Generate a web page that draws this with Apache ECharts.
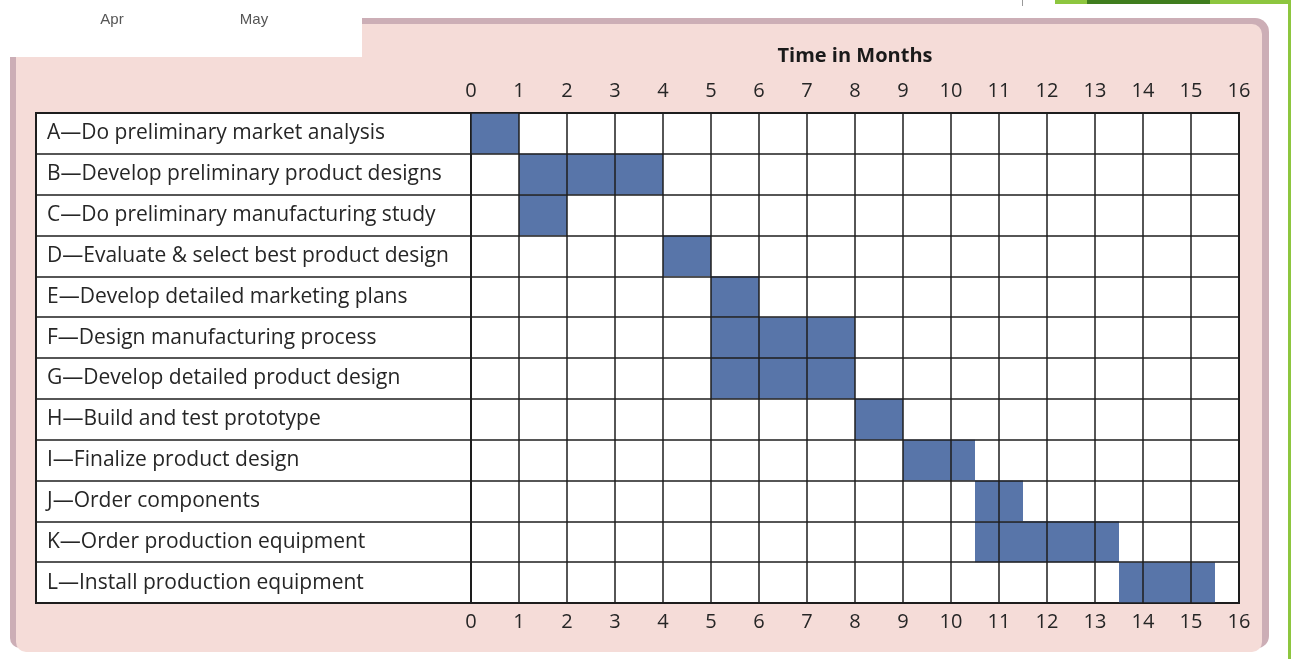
<!DOCTYPE html>
<html>
<head>
<meta charset="utf-8">
<script src="https://cdn.jsdelivr.net/npm/echarts@6/dist/echarts.min.js"></script>
<style>
  html, body { margin: 0; padding: 0; background: #fff; }
  #chart { width: 1291px; height: 659px; }
</style>
</head>
<body>
<div id="chart"></div>
<script>
// tasks, start month and finish month
const tasks = [
  'A—Do preliminary market analysis',
  'B—Develop preliminary product designs',
  'C—Do preliminary manufacturing study',
  'D—Evaluate & select best product design',
  'E—Develop detailed marketing plans',
  'F—Design manufacturing process',
  'G—Develop detailed product design',
  'H—Build and test prototype',
  'I—Finalize product design',
  'J—Order components',
  'K—Order production equipment',
  'L—Install production equipment'
];
const starts = [0, 1, 1, 4, 5, 5, 5, 8, 9, 10.5, 10.5, 13.5];
const ends = [1, 4, 2, 5, 6, 8, 8, 9, 10.5, 11.5, 13.5, 15.5];
const monthMin = 0;
const monthMax = 16;
const headerLabels = ['Apr', 'May'];

const lineColor = '#1e1e1e';
const barColor = '#5875a9';
const textColor = '#262626';
const font = '"Open Sans", sans-serif';

const chart = echarts.init(document.getElementById('chart'));

const barData = tasks.map((t, i) => [starts[i], ends[i], i]);

chart.setOption({
  backgroundColor: '#fff',
  animation: false,
  textStyle: { fontFamily: font },
  graphic: [
    // pink panel with mauve edge
    { type: 'rect', z: -20, shape: { x: 10, y: 18, width: 1259, height: 630, r: [0, 14, 12, 10] },
      style: { fill: '#ccaeb6' } },
    { type: 'rect', z: -19, shape: { x: 16, y: 24, width: 1246, height: 628, r: [0, 10, 10, 10] },
      style: { fill: '#f5dcd8' } },
    // white box top left
    { type: 'rect', z: -18, shape: { x: 0, y: 0, width: 362, height: 57 }, style: { fill: '#fff' } },
    { type: 'text', z: -17, style: { x: 112, y: 20, text: headerLabels[0], fill: '#555', font: '15px "Liberation Sans", Arial', align: 'center', verticalAlign: 'middle' } },
    { type: 'text', z: -17, style: { x: 254, y: 20, text: headerLabels[1], fill: '#555', font: '15px "Liberation Sans", Arial', align: 'center', verticalAlign: 'middle' } },
    // green strips top right
    { type: 'rect', z: -17, shape: { x: 1055, y: 0, width: 236, height: 4 }, style: { fill: '#8dc63f' } },
    { type: 'rect', z: -16, shape: { x: 1087, y: 0, width: 123, height: 4 }, style: { fill: '#3f7d1e' } },
    { type: 'rect', z: -16, shape: { x: 1288, y: 0, width: 3, height: 659 }, style: { fill: '#8dc63f' } },
    { type: 'rect', z: -16, shape: { x: 1022, y: 0, width: 1, height: 6 }, style: { fill: '#999' } }
  ],
  grid: [
    { left: 36, top: 113, width: 435, height: 490, show: true, backgroundColor: '#fff',
      borderColor: lineColor, borderWidth: 2 },
    { left: 471, top: 113, width: 768, height: 490, show: true, backgroundColor: '#fff',
      borderColor: lineColor, borderWidth: 2 }
  ],
  xAxis: [
    { gridIndex: 0, type: 'value', min: 0, max: 1, show: false },
    {
      gridIndex: 1, type: 'value', position: 'top', min: monthMin, max: monthMax, interval: 1, z: 5,
      name: 'Time in Months', nameLocation: 'middle', nameGap: 47,
      nameTextStyle: { fontSize: 20, fontWeight: 'bold', color: '#1a1a1a', fontFamily: font },
      axisLine: { show: false }, axisTick: { show: false },
      axisLabel: { fontSize: 20, color: textColor, margin: 12, showMinLabel: true, showMaxLabel: true },
      splitLine: { show: true, lineStyle: { color: lineColor, width: 1.5 } }
    },
    {
      gridIndex: 1, type: 'value', position: 'bottom', min: monthMin, max: monthMax, interval: 1, z: 5,
      axisLine: { show: false }, axisTick: { show: false },
      axisLabel: { fontSize: 20, color: textColor, margin: 9, showMinLabel: true, showMaxLabel: true },
      splitLine: { show: false }
    }
  ],
  yAxis: [
    {
      gridIndex: 0, type: 'category', data: tasks, inverse: true, z: 5,
      axisLine: { show: false }, axisTick: { show: false },
      axisLabel: { inside: true, margin: 11, interval: 0, fontSize: 21, color: textColor, padding: [4, 0, 0, 0] },
      splitLine: { show: true, interval: 0, lineStyle: { color: lineColor, width: 1.5 } }
    },
    {
      gridIndex: 1, type: 'category', data: tasks, inverse: true, z: 5,
      axisLine: { show: false }, axisTick: { show: false }, axisLabel: { show: false },
      splitLine: { show: true, interval: 0, lineStyle: { color: lineColor, width: 1.5 } }
    }
  ],
  series: [
    {
      type: 'custom',
      xAxisIndex: 1,
      yAxisIndex: 1,
      z: 2,
      encode: { x: [0, 1], y: 2 },
      data: barData,
      renderItem: (params, api) => {
        const s = api.coord([api.value(0), api.value(2)]);
        const e = api.coord([api.value(1), api.value(2)]);
        const h = api.size([0, 1])[1];
        return {
          type: 'rect',
          shape: { x: s[0], y: s[1] - h / 2, width: e[0] - s[0], height: h },
          style: { fill: barColor }
        };
      }
    }
  ]
});
</script>
</body>
</html>
